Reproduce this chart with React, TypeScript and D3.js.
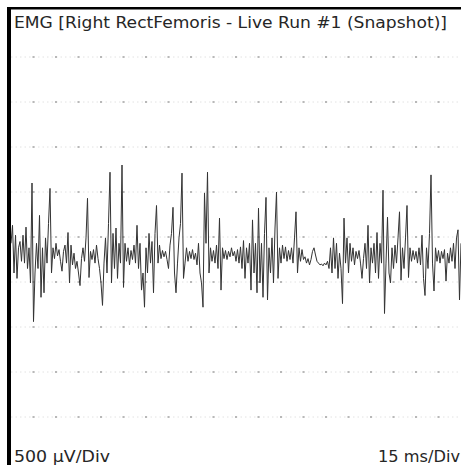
import React from 'react';
import * as d3 from 'd3';

// EMG snapshot, samples every 0.5 ms, values in µV relative to the trace baseline
const emgUv = [
  110, 310, -220, 200, -280, 60, 130, -90, 200, -110,
  290, -170, 60, -330, 780, -760, -220, 110, -170, 420,
  -490, 60, -440, 170, -110, 330, 720, -220, 60, -60,
  110, -30, 40, -90, -200, 20, 90, -110, 230, -330,
  90, -130, 0, -170, -90, -220, -360, -60, 60, -90,
  170, 610, -270, 20, -70, 40, -110, 90, -60, -170,
  -330, -580, -110, 170, -220, 330, 900, -330, 220, -170,
  280, -280, 110, -110, 980, -380, 110, -90, 60, -130,
  30, -70, 90, -110, 310, -170, 110, -410, -220, -600,
  60, -220, 220, -110, 130, -440, 220, 530, -110, 90,
  -60, 30, -40, 20, -70, -170, 90, 220, 510, -220,
  -440, -110, 170, 330, 890, -280, -110, 60, -90, 20,
  -60, 40, -70, 0, -130, 110, -220, -330, -600, 670,
  110, 900, -220, 60, -90, 30, -110, 90, -170, 390,
  -410, 60, -60, 30, -70, 20, -40, 60, -30, 20,
  -90, 40, -110, 70, -170, 140, -280, 60, -110, 110,
  -410, 370, -220, 110, -440, 500, -330, 110, -490, 220,
  620, -520, 60, -220, 170, -330, 280, 680, -280, 60,
  -110, 90, -60, 70, -90, 30, -70, 60, -110, 170,
  460, -220, 60, -90, 40, -70, -40, -110, -60, -130,
  -70, 20, 60, -20, -90, -110, -130, -120, -140, -110,
  -130, -90, -170, 60, -220, 170, -170, 110, -280, 0,
  -170, -560, 390, -110, 170, -220, 110, -90, 60, -130,
  20, -60, 30, -110, -280, -60, 110, -170, 310, -330,
  60, -110, 110, -220, 230, -280, 110, -110, 700, -670,
  -110, 400, -220, -330, 60, -170, 90, -110, 170, 460,
  -300, 60, -170, 170, 530, -270, 60, -90, 30, -70,
  20, -110, 60, -130, 200, -280, -470, 60, -170, 220,
  870, -110, -420, 60, -90, 30, -110, 20, -60, 40,
  -310, 0, -110, 60, -90, 110, -170, 170, 260, -520,
  110,
];
const sampleMs = 0.5;
const dcOffsetUv = -180;

const uvPerDiv = 500;
const msPerDiv = 15;
const divsX = 10;
const divsY = 10;

const title = 'EMG [Right RectFemoris - Live Run #1 (Snapshot)]';
const ampLabel = '500 µV/Div';
const timeLabel = '15 ms/Div';

const W = 461;
const H = 465;
const plot = { left: 11, top: 12, right: 461, bottom: 462 };
const font = '"DejaVu Sans", Verdana, sans-serif';
const ink = '#262626';

export default function App() {
  const halfY = (divsY / 2) * uvPerDiv;
  const x = d3.scaleLinear().domain([0, divsX * msPerDiv]).range([plot.left, plot.right]);
  const y = d3.scaleLinear().domain([-halfY, halfY]).range([plot.bottom, plot.top]);

  const line = d3.line<number>()
    .x((_, i) => x(i * sampleMs))
    .y(d => y(d + dcOffsetUv));

  const rows = d3.range(-halfY + uvPerDiv, halfY, uvPerDiv);
  const cols = d3.range(msPerDiv / 2, divsX * msPerDiv, msPerDiv / 2);

  return (
    <svg width={W} height={H} style={{ position: 'fixed', left: 0, top: 0, background: '#fff' }}>
      {/* grid */}
      <g>
        {rows.map(r => (
          <line key={'r' + r} x1={plot.left} x2={plot.right} y1={y(r)} y2={y(r)}
            stroke="#e2e2e2" strokeWidth={1} strokeDasharray="1.5 3" />
        ))}
        {rows.map(r => cols.map(c => (
          <rect key={`d${r}-${c}`} x={x(c) - 1} y={y(r) - 1} width={2} height={2} fill="#b8b8b8" />
        )))}
      </g>

      {/* trace */}
      <path d={line(emgUv) || ''} fill="none" stroke="#333" strokeWidth={1} strokeLinejoin="round" />

      {/* frame */}
      <rect x={7} y={7} width={W - 7} height={2.5} fill="#000" />
      <rect x={7} y={7} width={4} height={H - 7} fill="#000" />

      <text x={14} y={28} fontFamily={font} fontSize={15} fill={ink}
        textLength={433} lengthAdjust="spacingAndGlyphs">{title}</text>
      <text x={14} y={462} fontFamily={font} fontSize={15} fill={ink}
        textLength={96} lengthAdjust="spacingAndGlyphs">{ampLabel}</text>
      <text x={460} y={462} fontFamily={font} fontSize={15} fill={ink} textAnchor="end"
        textLength={82} lengthAdjust="spacingAndGlyphs">{timeLabel}</text>
    </svg>
  );
}
